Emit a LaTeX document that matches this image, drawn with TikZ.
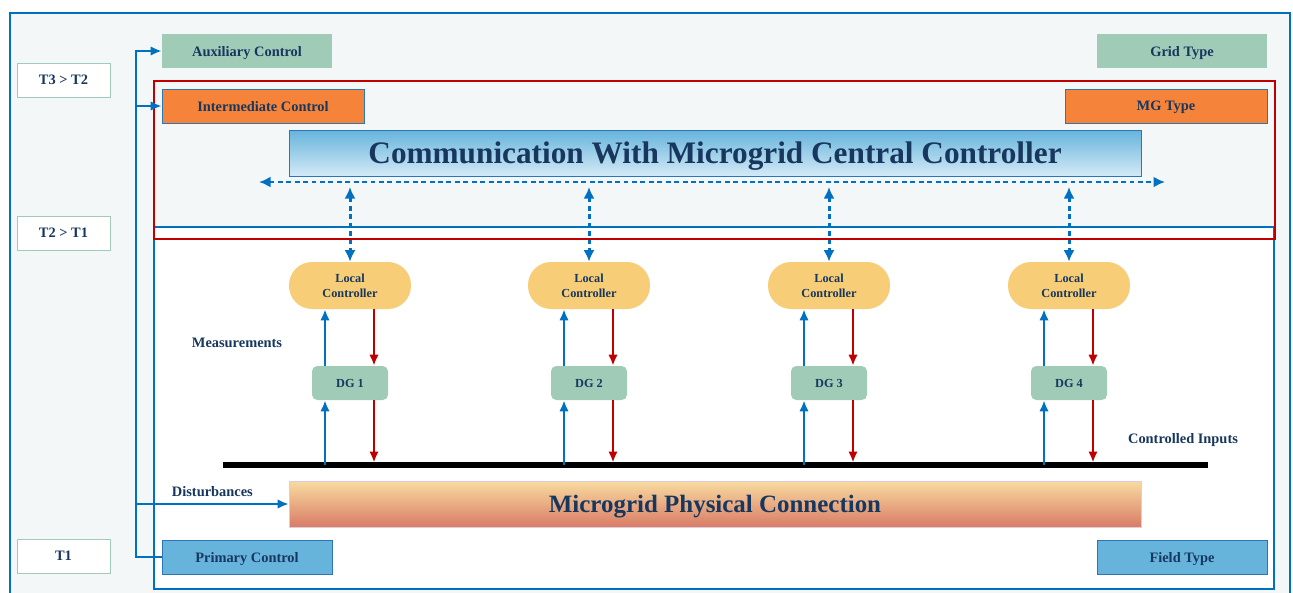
\documentclass[tikz,border=0pt]{standalone}
\usepackage{fontspec}
\setmainfont{Liberation Serif}
\usetikzlibrary{arrows.meta}
\definecolor{bgray}{HTML}{F4F7F7}
\definecolor{lblue}{HTML}{0070C0}
\definecolor{bblue}{HTML}{2E75B6}
\definecolor{mred}{HTML}{C00000}
\definecolor{mgreen}{HTML}{A0CBB7}
\definecolor{morange}{HTML}{F5843A}
\definecolor{lcyellow}{HTML}{F7CD78}
\definecolor{pblue}{HTML}{66B4DC}
\definecolor{commtop}{HTML}{66B4DC}
\definecolor{commbot}{HTML}{D4EAF6}
\definecolor{phystop}{HTML}{F8DBA0}
\definecolor{physmid}{HTML}{F2C392}
\definecolor{physbot}{HTML}{D97C66}
\definecolor{txtblue}{HTML}{17375E}
\begin{document}
\begin{tikzpicture}[x=0.02cm,y=-0.02cm,>={Latex[length=2.2mm,width=1.9mm]},text=txtblue,
    font=\bfseries\fontsize{8.2}{10}\selectfont,every node/.style={text depth=0pt}]
  \tikzstyle{tbox}=[draw=mgreen,fill=white,minimum width=1.86cm,minimum height=0.68cm]
  \tikzstyle{lvl}=[minimum width=3.4cm,minimum height=0.68cm]
  \tikzstyle{wlvl}=[lvl,minimum width=4.04cm,draw=bblue,fill=morange]
  \tikzstyle{lc}=[fill=lcyellow,rounded corners=0.46cm,minimum width=2.44cm,minimum height=0.94cm,
    align=center,font=\bfseries\fontsize{7}{8.5}\selectfont]
  \tikzstyle{dg}=[fill=mgreen,rounded corners=3pt,minimum width=1.52cm,minimum height=0.68cm,
    font=\bfseries\fontsize{7}{8.5}\selectfont]
  \tikzstyle{wide}=[minimum width=17.04cm,minimum height=0.92cm]
  \tikzstyle{flow}=[draw=lblue,line width=1.4pt]
  \tikzstyle{meas}=[draw=lblue,line width=1.4pt,->]
  \tikzstyle{ctl}=[draw=mred,line width=1.4pt,->]
  \tikzstyle{comm}=[draw=lblue,line width=1.7pt,dash pattern=on 2.8pt off 2pt,
    {Latex[length=2.3mm,width=2.2mm]}-{Latex[length=2.3mm,width=2.2mm]}]
  \def\dm{0.5cm}	% offset of measurement arrows
  \def\dc{0.48cm}	% offset of control arrows
  \useasboundingbox (0,0) rectangle (1293,592);
  % frames
  \draw[lblue,fill=bgray,line width=0.8pt] (10,13) rectangle (1290,600);
  \draw[lblue,fill=white,line width=0.8pt] (154,227) rectangle (1274,589);
  \draw[mred,line width=0.8pt] (154,81) rectangle (1275,239);
  % time scales
  \node[tbox] (t3) at (63.5,80) {T3 > T2};
  \node[tbox] (t2) at (63.5,233) {T2 > T1};
  \node[tbox] (t1) at (63.5,556) {T1};
  % control levels
  \node[lvl,fill=mgreen] (aux) at (247,51) {Auxiliary Control};
  \node[lvl,fill=mgreen] (grid) at (1182,51) {Grid Type};
  \node[wlvl] (inter) at (263,106) {Intermediate Control};
  \node[wlvl] (mg) at (1166,106) {MG Type};
  \node[lvl,fill=pblue,draw=bblue] (prim) at (247,557) {Primary Control};
  \node[lvl,fill=pblue,draw=bblue] (field) at (1182,557) {Field Type};
  \node[wide,draw=bblue,top color=commtop,bottom color=commbot,
    font=\bfseries\fontsize{17.8}{20}\selectfont] (mgcc) at (715,153)
    {Communication With Microgrid Central Controller};
  \node[wide,draw=mgreen!40!violet!30,top color=phystop,middle color=physmid,bottom color=physbot,
    font=\bfseries\fontsize{14.2}{16}\selectfont] (phys) at (715,504)
    {Microgrid Physical Connection};
  \node (meas) at (237,343) {Measurements};
  \node (cin) at (1183,438) {Controlled Inputs};
  % bus and communication line
  \coordinate (busL) at (223,465);
  \coordinate (busR) at (1208,465);
  \draw[line width=3pt] (busL) -- (busR);
  \coordinate (hl) at (259,182);
  \coordinate (hr) at (1165,182);
  \draw[comm] (hl) -- (hr);
  % local loops
  \foreach \i/\x in {1/350,2/589,3/829,4/1069}{
    \node[lc] (lc\i) at (\x,285.5) {Local\\Controller};
    \node[dg] (dg\i) at (\x,383) {DG \i};
    \draw[comm] ([yshift=-0.1cm]lc\i.north |- hl) -- (lc\i.north);
    \draw[meas] ([xshift=-\dm]dg\i.south |- busL) -- ([xshift=-\dm]dg\i.south);
    \draw[meas] ([xshift=-\dm]dg\i.north) -- ([xshift=-\dm]dg\i.north |- lc\i.south);
    \draw[ctl] ([xshift=\dc]dg\i.north |- lc\i.south) -- ([xshift=\dc]dg\i.north);
    \draw[ctl] ([xshift=\dc]dg\i.south) -- ([xshift=\dc,yshift=0.05cm]dg\i.south |- busL);
  }
  % hierarchy feed
  \coordinate (jn) at (136,557);
  \draw[flow,->] (prim.west) -- (jn) |- (aux.west);
  \draw[flow,->] (jn |- inter.west) -- (inter.west);
  \draw[flow,->] (jn |- phys.west) -- node[above]{Disturbances} (phys.west);
\end{tikzpicture}
\end{document}
